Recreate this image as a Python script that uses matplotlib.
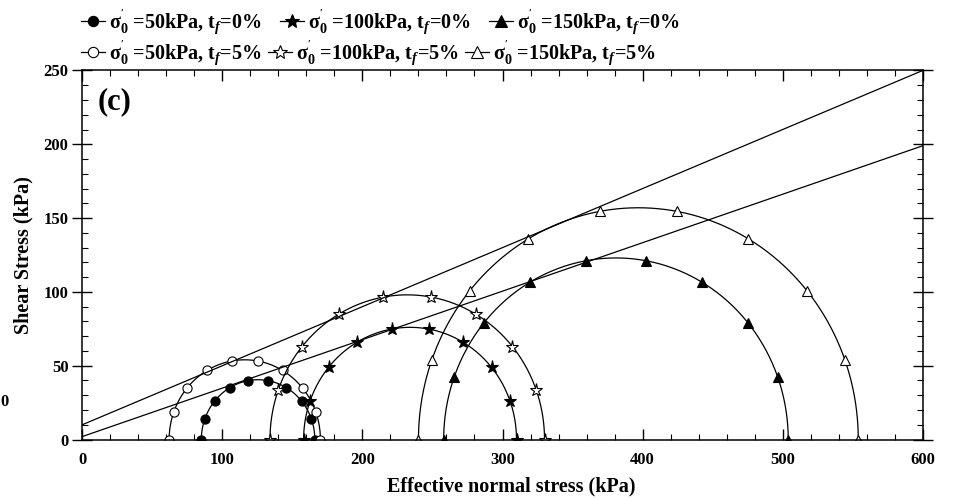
import numpy as np
import matplotlib
matplotlib.use("Agg")
import matplotlib.pyplot as plt
from matplotlib.lines import Line2D
from matplotlib.ticker import MultipleLocator

plt.rcParams.update({
    "font.family": ["Liberation Serif", "DejaVu Serif"],
    "font.weight": "bold",
    "mathtext.fontset": "custom",
    "mathtext.rm": "Liberation Serif:bold",
    "mathtext.bf": "Liberation Serif:bold",
    "mathtext.it": "Liberation Serif:italic:bold",
    "mathtext.default": "bf",
})

# Principal effective stresses (kPa) of each Mohr circle
confining = [50, 100, 150]
sigma3_tf0 = [85, 158, 258]
sigma1_tf0 = [166, 310, 504]
sigma3_tf5 = [62, 134, 240]
sigma1_tf5 = [170, 330, 554]
# Angular positions (deg) of the plotted stress points on each circle
point_angles = [0, 20, 40, 60, 80, 100, 120, 140, 160, 180]

# Failure envelopes (normal stress -> shear stress)
envelope_x = [0, 600]
envelope_tf5 = [10, 250]
envelope_tf0 = [2, 199]

markers = ["o", "*", "^"]
msizes = [6.6, 9.5, 7.5]

fig = plt.figure(figsize=(9.57, 4.98), dpi=100)
ax = fig.add_axes([82.3 / 957, 1 - 439.5 / 498, (922.7 - 82.3) / 957, (439.5 - 70.5) / 498])

theta = np.linspace(0, np.pi, 400)
ang = np.deg2rad(point_angles)

handles_0, handles_5 = [], []
for i, p in enumerate(confining):
    for s3, s1, filled, hl in ((sigma3_tf0[i], sigma1_tf0[i], True, handles_0),
                               (sigma3_tf5[i], sigma1_tf5[i], False, handles_5)):
        c = 0.5 * (s1 + s3)
        r = 0.5 * (s1 - s3)
        ax.plot(c + r * np.cos(theta), r * np.sin(theta), color="black", lw=0.9)
        fc = "black" if filled else "white"
        ax.plot(c + r * np.cos(ang), r * np.sin(ang), linestyle="none",
                marker=markers[i], ms=msizes[i], mfc=fc, mec="black", mew=0.8)
        tf = 0 if filled else 5
        label = r"$\sigma_{0}^{'}$ =%dkPa, $t_{\mathit{f}}$=%d%%" % (p, tf)
        hl.append(Line2D([], [], color="black", lw=0.9, marker=markers[i],
                         ms=msizes[i] + 0.8, mfc=fc, mec="black", mew=0.8, label=label))

ax.plot(envelope_x, envelope_tf5, color="black", lw=0.9)
ax.plot(envelope_x, envelope_tf0, color="black", lw=0.9)

ax.set_xlim(0, 600)
ax.set_ylim(0, 250)
ax.xaxis.set_major_locator(MultipleLocator(100))
ax.xaxis.set_minor_locator(MultipleLocator(20))
ax.yaxis.set_major_locator(MultipleLocator(50))
ax.yaxis.set_minor_locator(MultipleLocator(10))
ax.tick_params(axis="x", which="major", direction="in", length=8, width=1,
               top=True, pad=9, labelsize=12)
ax.tick_params(axis="x", which="minor", direction="in", length=4, width=0.8, top=True)
ax.tick_params(axis="y", which="major", direction="inout", length=14, width=1,
               right=True, pad=3, labelsize=12)
ax.tick_params(axis="y", which="minor", direction="in", length=4, width=0.8, right=True)
for sp in ax.spines.values():
    sp.set_linewidth(1.1)

ax.set_xlabel("Effective normal stress (kPa)", fontsize=14.5, fontweight="bold")
ax.xaxis.set_label_coords(0.51, -0.1)
ax.set_ylabel("Shear Stress (kPa)", fontsize=14.5, fontweight="bold")
ax.yaxis.set_label_coords(-0.058, 0.5)

ax.text(0.018, 0.955, "(c)", transform=ax.transAxes, fontsize=22,
        fontweight="bold", va="top", ha="left")

fig.text(0.0, 1 - 402 / 498, "0", fontsize=12, fontweight="bold", va="center", ha="left")

common = dict(frameon=False, loc="center left", ncol=3, fontsize=14.5,
              handlelength=1.2, handletextpad=0.2, borderpad=0, borderaxespad=0)
fig.legend(handles=handles_0, bbox_to_anchor=(81 / 957, 1 - 22 / 498),
           columnspacing=0.9, **common)
fig.legend(handles=handles_5, bbox_to_anchor=(81 / 957, 1 - 53 / 498),
           columnspacing=0.3, **common)

fig.savefig("out.png", dpi=100)
